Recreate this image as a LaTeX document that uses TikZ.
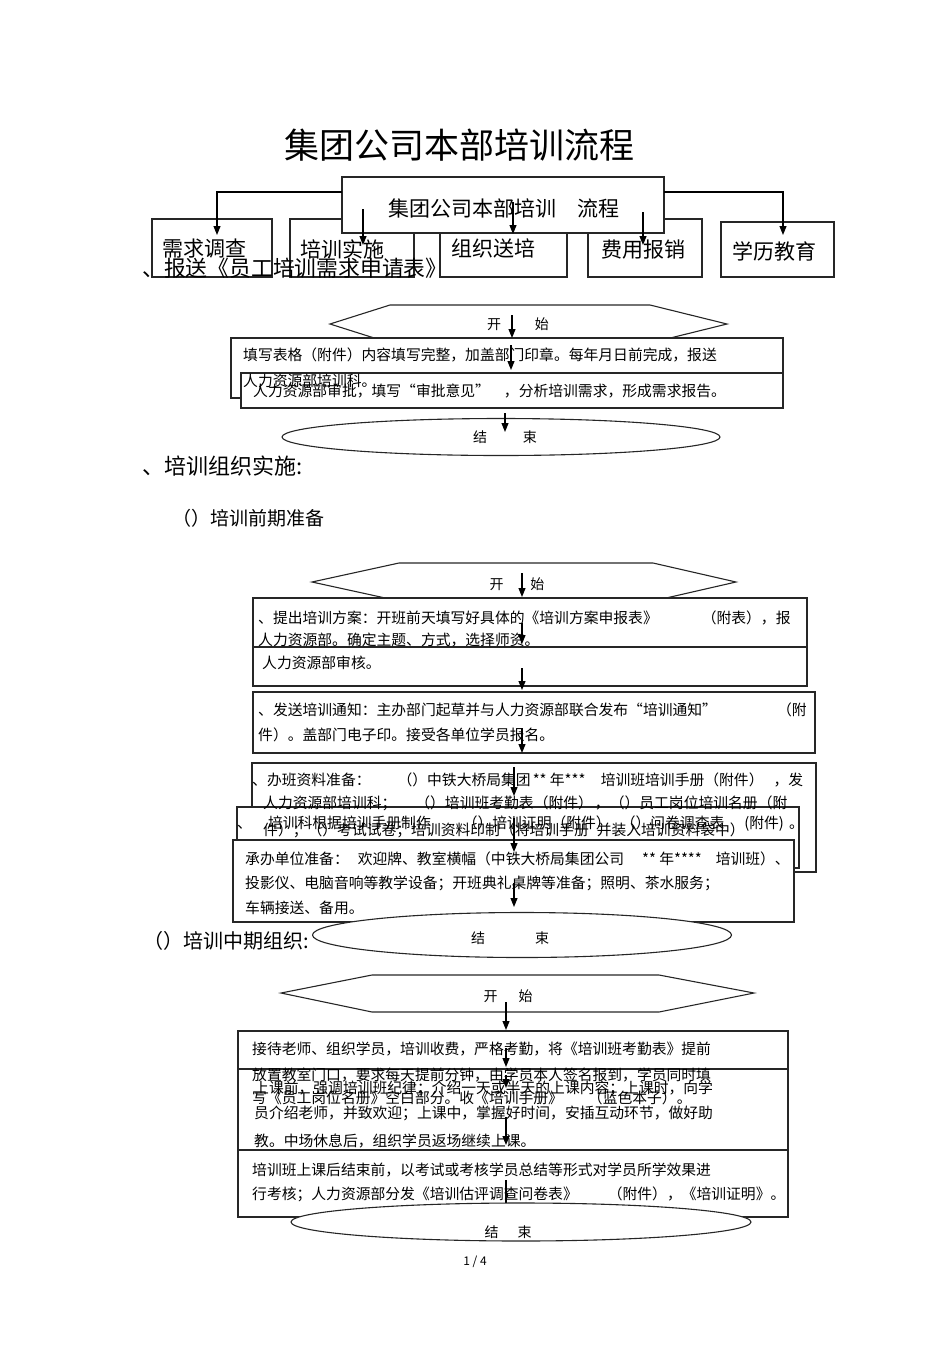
\documentclass[tikz,border=0pt]{standalone}
\usepackage{fontspec}
\setmainfont{Noto Sans CJK SC}
\usetikzlibrary{arrows.meta, fit, shapes.geometric}

\begin{document}
\begin{tikzpicture}[x=1pt, y=-1pt,
		box/.style={draw=black!85, line width=1.1pt, fill=white, inner sep=0pt},
		oval/.style={ellipse, draw=black!85, line width=1.1pt, fill=white, inner sep=0pt},
		hexa/.style={draw=black!85, line width=1.1pt},
		txt/.style={anchor=north west, inner sep=0pt, align=left,
			font=\fontsize{14.8}{24.5}\selectfont},
		lbl/.style={inner sep=0pt, font=\fontsize{21}{24}\selectfont},
		small/.style={inner sep=0pt, font=\fontsize{14}{16}\selectfont},
		arr/.style={-{Triangle[length=9pt,width=7pt]}, line width=1.1pt}
	]
	\useasboundingbox (0,0) rectangle (950,1345);

	% ===== Title and overview =====
	\node[inner sep=0pt, font=\fontsize{35}{40}\selectfont] (title) at (459,145) {集团公司本部培训流程};

	\node[box, fit={(152,219) (272,277)}] (b1) {};
	\node[box, fit={(290,219) (414,277)}] (b2) {};
	\node[box, fit={(440,219) (567,277)}] (b3) {};
	\node[box, fit={(588,219) (702,277)}] (b4) {};
	\node[box, fit={(721,222) (834,277)}] (b5) {};
	\node[lbl] (l1) at (204,249) {需求调查};
	\node[lbl] (l2) at (342,249) {培训实施};
	\node[lbl] (l3) at (493,248) {组织送培};
	\node[lbl] (l4) at (643,250) {费用报销};
	\node[lbl] (l5) at (774,251) {学历教育};
	\node[lbl, anchor=west, font=\fontsize{21.8}{24}\selectfont] (sec1) at (142,268)
		{、报送《员工培训需求申请表》};

	\node[box, fit={(342,177) (664,233)}] (top) {};
	\node[lbl, anchor=west] (topl) at (388,208) {集团公司本部培训\hspace{21pt}流程};

	\coordinate (tl) at (342,192);
	\coordinate (tr) at (664,192);
	\coordinate (t1) at (217,235);
	\coordinate (t5) at (783,235);
	\draw[arr] (tl) -| (t1);
	\draw[arr] (tr) -| (t5);
	\coordinate (t2a) at (363,209); \coordinate (t2b) at (363,245);
	\coordinate (t3a) at (513,202); \coordinate (t3b) at (513,234);
	\coordinate (t4a) at (643,212); \coordinate (t4b) at (643,245);
	\draw[arr] (t2a) -- (t2b);
	\draw[arr] (t3a) -- (t3b);
	\draw[arr] (t4a) -- (t4b);

	% ===== Part 1: demand survey =====
	\draw[hexa] (390,305) -- (650,305) -- (727,324) -- (650,343) -- (390,343) -- (330,324) -- cycle;
	\node[small] (s1) at (518,324) {开\hspace{34pt}始};
	\node[box, fit={(231,338) (783,398)}] (bA) {};
	\node[box, fit={(241,373) (783,408)}] (bB) {};
	\node[txt] (tA) at (243,348)
		{填写表格（附件）内容填写完整，加盖部门印章。每年月日前完成，报送\\[1.5pt]
		人力资源部培训科。};
	\node[txt] (tB) at (253,384)
		{人力资源部审批，填写“审批意见”\hspace{14pt}，分析培训需求，形成需求报告。};
	\node[oval, minimum width=438pt, minimum height=37pt] (e1) at (501,437) {};
	\node[small] (f1) at (505,437) {结\hspace{36pt}束};

	\coordinate (a1s) at (512,315); \coordinate (a1e) at (512,338);
	\coordinate (a2s) at (511,345); \coordinate (a2e) at (511,370);
	\coordinate (a3s) at (505,413); \coordinate (a3e) at (505,432);
	\draw[arr] (a1s) -- (a1e);
	\draw[arr] (a2s) -- (a2e);
	\draw[arr] (a3s) -- (a3e);

	% ===== Part 2: organising the training =====
	\node[lbl, anchor=west, font=\fontsize{22}{24}\selectfont] (sec2) at (142,466) {、培训组织实施:};
	\node[lbl, anchor=west, font=\fontsize{19}{22}\selectfont] (sec2a) at (172,518) {（）培训前期准备};

	\draw[hexa] (399,563) -- (653,563) -- (736,582) -- (653,601) -- (399,601) -- (312,582) -- cycle;
	\node[small] (s2) at (517,584) {开\hspace{27pt}始};
	\node[box, fit={(253,598) (807,647)}] (bC1) {};
	\node[box, fit={(253,647) (807,686)}] (bC2) {};
	\node[box, fit={(253,692) (815,753)}] (bC3) {};
	\node[txt] (tC1) at (258,611)
		{、提出培训方案：开班前天填写好具体的《培训方案申报表》\hspace{44pt}（附表），报\\[-2.5pt]
		人力资源部。确定主题、方式，选择师资。};
	\node[txt] (tC2) at (262,656) {人力资源部审核。};
	\node[txt] (tC3) at (258,703)
		{、发送培训通知：主办部门起草并与人力资源部联合发布“培训通知”\hspace{60pt}（附\\[0.5pt]
		件）。盖部门电子印。接受各单位学员报名。};

	\node[box, fit={(252,763) (816,872)}] (bD1) {};
	\node[box, fit={(237,807) (799,868)}] (bD2) {};
	\node[txt] (tD1) at (252,773)
		{、办班资料准备：\hspace{27pt}（）中铁大桥局集团\hspace{2pt}** 年*** \hspace{12pt}培训班培训手册（附件）\hspace{10pt}，发\\[-1.5pt]
		\hspace*{11pt}人力资源部培训科；\hspace{19pt}（）培训班考勤表（附件）\hspace{2pt}，（）员工岗位培训名册（附\\[2.5pt]
		\hspace*{11pt}件）；（）考试试卷；培训资料印制（将培训手册\hspace{8pt}并装入培训资料袋中）};
	\node[txt] (tD2) at (237,816)
		{、\hspace{16pt}培训科根据培训手册制作\hspace{32pt}（）培训证明（附件）\hspace{10pt}（）问卷调查表\hspace{20pt}(附件)\hspace{5pt}。};
	\node[box, fit={(233,840) (794,922)}] (bD3) {};
	\node[txt] (tD3) at (245,852)
		{承办单位准备：\hspace{9pt}欢迎牌、教室横幅（中铁大桥局集团公司\hspace{18pt}** 年****\hspace{14pt}培训班）、\\[-0.5pt]
		投影仪、电脑音响等教学设备；开班典礼桌牌等准备；照明、茶水服务；\\[0.5pt]
		车辆接送、备用。};

	\node[oval, minimum width=419pt, minimum height=45pt] (e2) at (522,935) {};
	\node[small] (f2) at (510,938) {结\hspace{50pt}束};

	\coordinate (c1s) at (522,573); \coordinate (c1e) at (522,597);
	\coordinate (c2s) at (522,623); \coordinate (c2e) at (522,644);
	\coordinate (c3s) at (522,668); \coordinate (c3e) at (522,690);
	\coordinate (c4s) at (522,728); \coordinate (c4e) at (522,753);
	\coordinate (c5s) at (514,767); \coordinate (c5e) at (514,796);
	\coordinate (c6s) at (514,818); \coordinate (c6e) at (514,852);
	\coordinate (c7s) at (514,883); \coordinate (c7e) at (514,907);
	\draw[arr] (c1s) -- (c1e);
	\draw[arr] (c2s) -- (c2e);
	\draw[arr] (c3s) -- (c3e);
	\draw[arr] (c4s) -- (c4e);
	\draw[arr] (c5s) -- (c5e);
	\draw[arr] (c6s) -- (c6e);
	\draw[arr] (c7s) -- (c7e);

	% ===== Part 2b: running the course =====
	\node[lbl, anchor=west, font=\fontsize{20}{22}\selectfont] (sec2b) at (143,941) {（）培训中期组织:};

	\draw[hexa] (372,975) -- (659,975) -- (754,993) -- (659,1012) -- (372,1012) -- (281,993) -- cycle;
	\node[small] (s3) at (508,996) {开\hspace{21pt}始};
	\node[box, fit={(238,1031) (788,1110)}] (bE1) {};
	\node[box, fit={(238,1069) (788,1150)}] (bE2) {};
	\node[box, fit={(238,1150) (788,1217)}] (bE3) {};
	\node[txt] (tE1) at (252,1042)
		{接待老师、组织学员，培训收费，严格考勤，将《培训班考勤表》提前\\[1.5pt]
		放置教室门口，要求每天提前分钟，由学员本人签名报到，学员同时填\\[-1.5pt]
		写《员工岗位名册》空白部分。收《培训手册》\hspace{25pt}（蓝色本子）。};
	\node[txt] (tE2) at (254,1081)
		{上课前，强调培训班纪律；介绍一天或半天的上课内容；上课时，向学\\[0.5pt]
		员介绍老师，并致欢迎；上课中，掌握好时间，安插互动环节，做好助\\[3.5pt]
		教。中场休息后，组织学员返场继续上课。};
	\node[txt] (tE3) at (252,1163)
		{培训班上课后结束前，以考试或考核学员总结等形式对学员所学效果进\\[-0.5pt]
		行考核；人力资源部分发《培训估评调查问卷表》\hspace{30pt}（附件），《培训证明》。};

	\coordinate (d1s) at (506,1002); \coordinate (d1e) at (506,1030);
	\coordinate (d2s) at (506,1048); \coordinate (d2e) at (506,1067);
	\coordinate (d3s) at (506,1075); \coordinate (d3e) at (506,1088);
	\coordinate (d4s) at (506,1117); \coordinate (d4e) at (506,1145);
	\coordinate (d5s) at (506,1180); \coordinate (d5e) at (506,1212);
	\draw[arr] (d1s) -- (d1e);
	\draw[arr] (d2s) -- (d2e);
	\draw[arr] (d3s) -- (d3e);
	\draw[arr] (d4s) -- (d4e);
	\draw[arr] (d5s) -- (d5e);

	\node[oval, minimum width=460pt, minimum height=38pt] (e3) at (521,1222) {};
	\node[small] (f3) at (508,1232) {结\hspace{19pt}束};

	\node[inner sep=0pt, font=\fontsize{12}{14}\selectfont] (page) at (475,1262) {1 / 4};
\end{tikzpicture}
\end{document}
